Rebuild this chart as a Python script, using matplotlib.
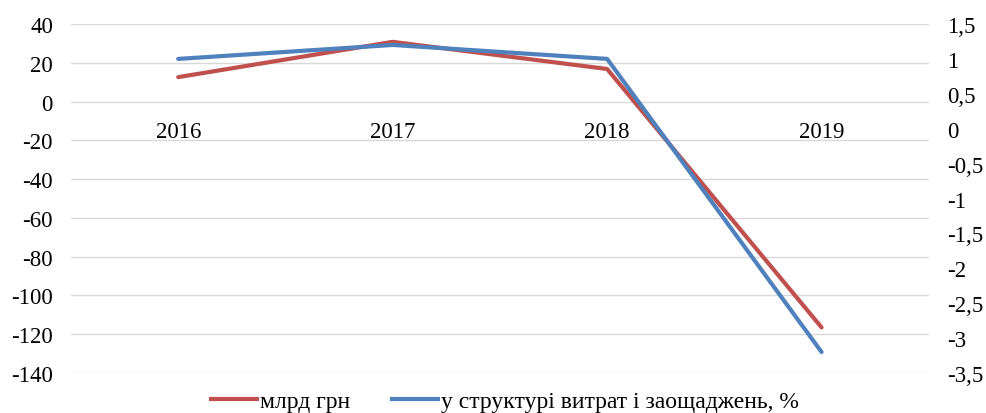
import numpy as np
import matplotlib.pyplot as plt
from matplotlib.lines import Line2D

# data
years = ['2016', '2017', '2018', '2019']
bln_uah = [12.6, 30.8, 16.8, -116.5]
share_pct = [1.0, 1.2, 1.0, -3.2]
left_ticks = [40, 20, 0, -20, -40, -60, -80, -100, -120, -140]
right_ticks = [1.5, 1, 0.5, 0, -0.5, -1, -1.5, -2, -2.5, -3, -3.5]

red = '#C0504D'
blue = '#4F81BD'

plt.rcParams['font.family'] = ['Liberation Serif', 'DejaVu Serif']
plt.rcParams['font.size'] = 16.5

fig = plt.figure(figsize=(9.86, 4.14), dpi=100)
ax = fig.add_axes([0.072, 0.0966, 0.870, 0.843])
ax2 = ax.twinx()

x = np.arange(len(years))

ax.plot(x, bln_uah, color=red, lw=3, solid_capstyle='round', zorder=3)
ax2.plot(x, share_pct, color=blue, lw=3, solid_capstyle='round', zorder=3)

ax.set_xlim(-0.5, len(years) - 0.5)
ax.set_ylim(-140, 40)
ax2.set_ylim(-3.5, 1.5)

ax.set_yticks(left_ticks)
ax.set_yticklabels([str(v) for v in left_ticks])
ax2.set_yticks(right_ticks)
ax2.set_yticklabels([('%g' % v).replace('.', ',') for v in right_ticks])

ax.set_xticks(x)
ax.set_xticklabels(years)
ax.spines['bottom'].set_position(('data', 0))

for s in ax.spines.values():
    s.set_visible(False)
for s in ax2.spines.values():
    s.set_visible(False)

ax.grid(axis='y', color='#D9D9D9', lw=1)
ax.set_axisbelow(True)
ax.tick_params(axis='y', length=0, pad=13)
ax.tick_params(axis='x', length=0, pad=14)
ax2.tick_params(axis='y', length=0, pad=13)

handles = [Line2D([], [], color=red, lw=3),
           Line2D([], [], color=blue, lw=3)]
fig.legend(handles, ['млрд грн', 'у структурі витрат і заощаджень, %'],
           loc='lower center', bbox_to_anchor=(0.512, -0.05), ncol=2,
           frameon=False, fontsize=17, handlelength=1.95, handletextpad=0.12,
           columnspacing=1.8)

fig.savefig('out.png', dpi=100)
